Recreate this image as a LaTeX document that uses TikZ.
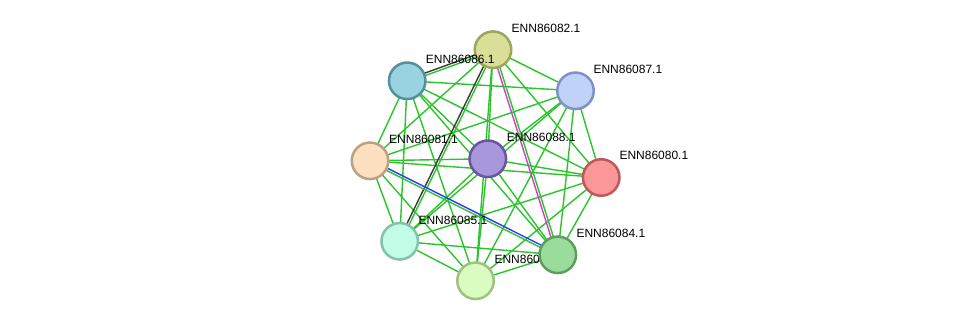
\documentclass[tikz,border=0pt]{standalone}
\usepackage{fontspec}
\setmainfont{Liberation Sans}
\usetikzlibrary{backgrounds}
\definecolor{eg}{HTML}{2BC52B}
\definecolor{coex}{HTML}{3A3A3A}
\definecolor{expm}{HTML}{D040D0}
\definecolor{cooc}{HTML}{2D3DF0}
\definecolor{f82}{HTML}{D9DE98}\definecolor{b82}{HTML}{9EA55C}
\definecolor{f86}{HTML}{99D3E0}\definecolor{b86}{HTML}{56909F}
\definecolor{f87}{HTML}{C0D1FA}\definecolor{b87}{HTML}{7F92C4}
\definecolor{f81}{HTML}{FDE0C0}\definecolor{b81}{HTML}{BCA182}
\definecolor{f88}{HTML}{A997DB}\definecolor{b88}{HTML}{6B54A0}
\definecolor{f80}{HTML}{FC9797}\definecolor{b80}{HTML}{C0575A}
\definecolor{f85}{HTML}{C2FBE6}\definecolor{b85}{HTML}{84C2B0}
\definecolor{f84}{HTML}{99DC9C}\definecolor{b84}{HTML}{5B9E5E}
\definecolor{f83}{HTML}{DBFCC0}\definecolor{b83}{HTML}{9FC182}
\begin{document}
\begin{tikzpicture}[x=1pt,y=-1pt,
  prot/.style={circle, minimum size=36.5pt, inner sep=0pt, line width=2.5pt},
  lbl/.style={anchor=base west, inner sep=0pt, font=\fontsize{12}{14}\selectfont},
  tm/.style={draw=eg, line width=1.4pt},
  cx/.style={draw=coex, line width=1.4pt},
  ex/.style={draw=expm, line width=1.4pt},
  co/.style={draw=cooc, line width=1.4pt}]
\useasboundingbox (0,0) rectangle (975,326);
\node[prot, fill=f82, draw=b82] (n82) at (493,49.7) {};
\node[prot, fill=f86, draw=b86] (n86) at (407.2,80.8) {};
\node[prot, fill=f87, draw=b87] (n87) at (575.5,90.8) {};
\node[prot, fill=f81, draw=b81] (n81) at (370,160.8) {};
\node[prot, fill=f88, draw=b88] (n88) at (487.8,158.8) {};
\node[prot, fill=f80, draw=b80] (n80) at (601.2,177.5) {};
\node[prot, fill=f85, draw=b85] (n85) at (399.7,241.3) {};
\node[prot, fill=f83, draw=b83] (n83) at (475.5,280.8) {};
\node[lbl] (l82) at (511.5,32.3) {ENN86082.1};
\node[lbl] (l86) at (425.7,63.3) {ENN86086.1};
\node[lbl] (l87) at (593.3,73.3) {ENN86087.1};
\node[lbl] (l81) at (389,143.3) {ENN86081.1};
\node[lbl] (l88) at (506.7,141.7) {ENN86088.1};
\node[lbl] (l80) at (619.3,160) {ENN86080.1};
\node[lbl] (l85) at (418.3,224.3) {ENN86085.1};
\node[lbl] (l83) at (494.3,263.3) {ENN86083.1};
\node[prot, fill=f84, draw=b84] (n84) at (557.8,254.8) {};
\node[lbl] (l84) at (576.3,237.3) {ENN86084.1};
\begin{scope}[on background layer]
  \fill[white] (0,0) rectangle (975,326);
  % plain green edges
  \foreach \a/\b in {82/87,82/81,82/88,82/80,82/83,
                     86/87,86/81,86/88,86/80,86/85,86/84,86/83,
                     87/81,87/88,87/80,87/85,87/84,87/83,
                     81/88,81/80,81/85,81/83,
                     88/80,88/85,88/84,88/83,
                     80/85,80/84,80/83,
                     85/84,85/83,84/83}
    \draw[tm] (n\a.center) -- (n\b.center);
  % double edges
  \draw[cx, transform canvas={shift={(-0.45,-1.13)}}] (n86.center) -- (n82.center);
  \draw[tm, transform canvas={shift={(0.45,1.13)}}] (n86.center) -- (n82.center);
  \draw[cx, transform canvas={shift={(-1.08,-0.53)}}] (n82.center) -- (n85.center);
  \draw[tm, transform canvas={shift={(1.08,0.53)}}] (n82.center) -- (n85.center);
  \draw[ex, transform canvas={shift={(-1.14,0.36)}}] (n82.center) -- (n84.center);
  \draw[tm, transform canvas={shift={(1.14,-0.36)}}] (n82.center) -- (n84.center);
  \draw[co, transform canvas={shift={(0.54,-1.07)}}] (n81.center) -- (n84.center);
  \draw[tm, transform canvas={shift={(-0.54,1.07)}}] (n81.center) -- (n84.center);
\end{scope}
\end{tikzpicture}
\end{document}
